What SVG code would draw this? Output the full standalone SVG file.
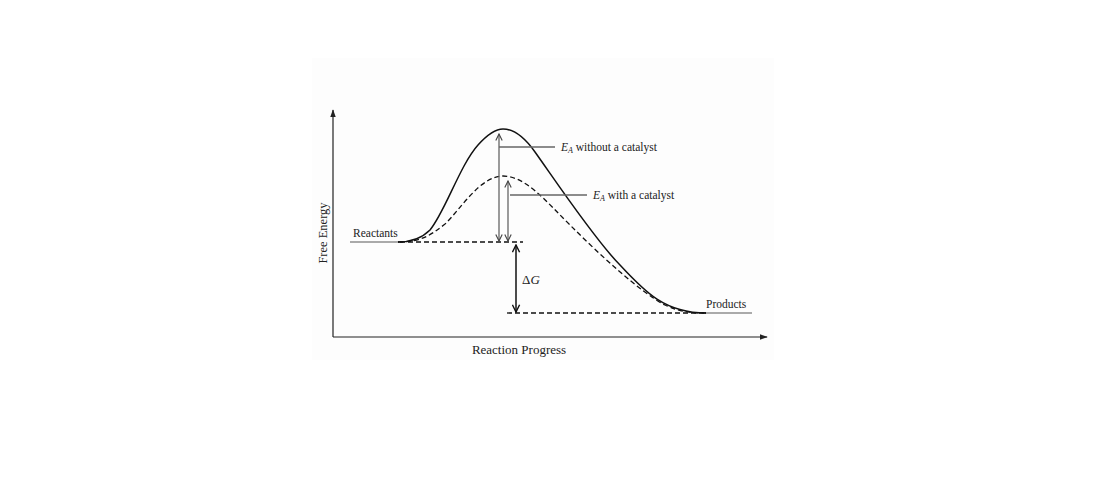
<svg xmlns="http://www.w3.org/2000/svg" width="1104" height="498" viewBox="0 0 1104 498">
<defs>
<style>
text{font-family:"Liberation Serif","Times New Roman",serif;fill:#222}
.lbl{font-size:11.5px}
.ax{stroke:#222;stroke-width:1.2;fill:none}
.curve{stroke:#111;stroke-width:1.5;fill:none}
.dash{stroke:#111;stroke-width:1.3;fill:none;stroke-dasharray:5 3}
.gray{stroke:#aaa;stroke-width:2;fill:none}
.ea{stroke:#666;stroke-width:1.3;fill:none}
.lead{stroke:#666;stroke-width:1.3;fill:none}
.dg{stroke:#111;stroke-width:1.5;fill:none}
</style>
<marker id="open" viewBox="0 0 10 10" refX="9" refY="5" markerWidth="8" markerHeight="8" markerUnits="userSpaceOnUse" orient="auto-start-reverse">
<path d="M1,1 L9,5 L1,9" fill="none" stroke="#444" stroke-width="1.4"/>
</marker>
<marker id="openk" viewBox="0 0 10 10" refX="9" refY="5" markerWidth="9" markerHeight="9" markerUnits="userSpaceOnUse" orient="auto-start-reverse">
<path d="M1,1 L9,5 L1,9" fill="none" stroke="#111" stroke-width="1.6"/>
</marker>
<marker id="solid" viewBox="0 0 10 10" refX="9" refY="5" markerWidth="8" markerHeight="8" markerUnits="userSpaceOnUse" orient="auto">
<path d="M0,1.5 L10,5 L0,8.5 Z" fill="#222"/>
</marker>
</defs>
<rect x="312" y="58" width="462" height="302" fill="#fdfdfd"/>
<g id="axes">
<line class="ax" x1="333" y1="337" x2="333" y2="110" marker-end="url(#solid)"/>
<line class="ax" x1="333" y1="337" x2="767" y2="337" marker-end="url(#solid)"/>
<text id="y-label" transform="translate(327,233) rotate(-90)" text-anchor="middle" style="font-size:12.5px">Free Energy</text>
<text id="x-label" x="519" y="354" text-anchor="middle" style="font-size:13px">Reaction Progress</text>
</g>
<g id="reactants">
<line class="gray" x1="350" y1="242" x2="399" y2="242"/>
<text class="lbl" x="353" y="237">Reactants</text>
</g>
<g id="products">
<line class="gray" x1="705" y1="313" x2="752" y2="313"/>
<text class="lbl" x="706" y="308">Products</text>
</g>
<g id="connectors">
<path id="uncatalyzed" class="curve" d="M398,242 C412,242 422,238 430,230 C445,212 460,165 478,145 C487,135 495,129 503,129 C515,129 525,138 535,152 C555,180 595,240 620,265 C645,292 665,313 706,313"/>
<path id="catalyzed" class="dash" d="M398,242 C420,242 430,236 445,224 C460,210 480,176 503,176 C525,176 545,200 570,225 C600,255 640,292 665,305 C680,312 690,313 706,313"/>
<line class="dash" x1="400" y1="242" x2="523" y2="242"/>
<line class="dash" x1="507" y1="313" x2="706" y2="313"/>
<line class="ea" x1="499" y1="241" x2="499" y2="134" marker-start="url(#open)" marker-end="url(#open)"/>
<line class="ea" x1="508" y1="241" x2="508" y2="181" marker-start="url(#open)" marker-end="url(#open)"/>
<line class="lead" x1="499" y1="147" x2="555" y2="147"/>
<line class="lead" x1="510" y1="195" x2="587" y2="195"/>
<line class="dg" x1="516" y1="245" x2="516" y2="312" marker-start="url(#openk)" marker-end="url(#openk)"/>
</g>
<g id="ea-without">
<text class="lbl" x="561" y="151"><tspan font-style="italic">E</tspan><tspan font-style="italic" font-size="8" dy="2">A</tspan><tspan dy="-2"> without a catalyst</tspan></text>
</g>
<g id="ea-with">
<text class="lbl" x="593" y="199"><tspan font-style="italic">E</tspan><tspan font-style="italic" font-size="8" dy="2">A</tspan><tspan dy="-2"> with a catalyst</tspan></text>
</g>
<g id="delta-g">
<text x="522" y="284" style="font-size:13px">Δ<tspan font-style="italic">G</tspan></text>
</g>
</svg>
